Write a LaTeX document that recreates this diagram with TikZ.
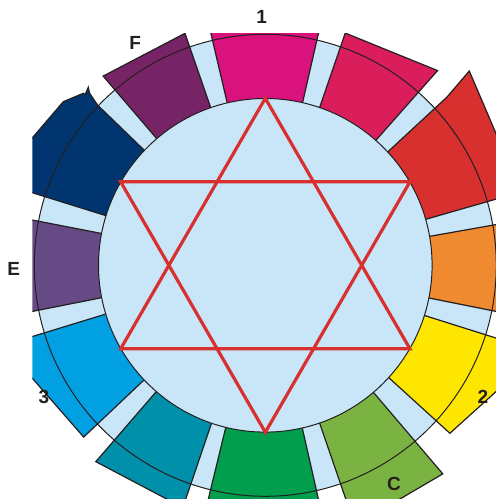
\documentclass[tikz,border=0pt]{standalone}
\usepackage{fontspec}
\setmainfont{Liberation Sans}
\definecolor{outl}{HTML}{231F20}
\definecolor{lblc}{HTML}{231F20}
\definecolor{ringc}{HTML}{C8E6F7}
\definecolor{starc}{HTML}{D82F2F}
\definecolor{cMag}{HTML}{D9127D}
\definecolor{cCrim}{HTML}{D91E5B}
\definecolor{cRed}{HTML}{D7302E}
\definecolor{cOra}{HTML}{F08A30}
\definecolor{cYel}{HTML}{FFE600}
\definecolor{cYG}{HTML}{7BB342}
\definecolor{cGre}{HTML}{009E4D}
\definecolor{cTea}{HTML}{0090A9}
\definecolor{cBlu}{HTML}{00A0E3}
\definecolor{cPur}{HTML}{664A85}
\definecolor{cNav}{HTML}{003570}
\definecolor{cFpu}{HTML}{762466}
\begin{document}
\begin{tikzpicture}[x=1pt,y=1pt,
  blk/.style={draw=outl, line width=1.2pt, line join=miter},
  arcline/.style={draw=outl, line width=1pt},
  starline/.style={draw=starc, line width=3.2pt, line join=miter},
  lbl/.style={text=lblc, font=\fontsize{19}{20}\selectfont\bfseries, inner sep=0pt, anchor=center}]
\useasboundingbox (0,0) rectangle (496,499);
\begin{scope}
\clip (32.3,0) rectangle (496,465.7);
\begin{scope}[shift={(265.3,233.7)}]
\fill[ringc] (0,0) circle (231);
% blocks
\path[blk, fill=cMag] (103.2:150) -- (103.2:245) -- (77.1:245) -- (77.1:150) -- cycle;
\path[blk, fill=cCrim] (71:150) -- (71:245.6) -- (48.5:260) -- (48.5:150) -- cycle;
\path[blk, fill=cRed] (42.8:150) -- (42.8:247.6) -- (204,194.3) -- (16:266) -- (16:150) -- cycle;
\path[blk, fill=cOra] (10:150) -- (10:262) -- (-11.3:262) -- (-11.3:150) -- cycle;
\path[blk, fill=cYel] (-17.5:150) -- (-17.5:288) -- (-42.3:249.6) -- (-42.3:150) -- cycle;
\path[blk, fill=cYG] (-49.6:150) -- (-49.6:273.9) -- (-71:275.1) -- (-71:150) -- cycle;
\path[blk, fill=cGre] (-77.2:150) -- (-77.2:262) -- (-103.7:262) -- (-103.7:150) -- cycle;
\path[blk, fill=cTea] (-108.8:150) -- (-108.8:255.9) -- (-130.8:259.4) -- (-130.8:150) -- cycle;
\path[blk, fill=cBlu] (-136.6:150) -- (-136.6:250) -- (-163:273.7) -- (-163:150) -- cycle;
\path[blk, fill=cPur] (-168.8:150) -- (-168.8:262) -- (169:262) -- (169:150) -- cycle;
\path[blk, fill=cNav] (162.7:150) -- (162.7:262) -- (-245.3,113.3) -- (-232,128.6) -- (-202,163.6)
  -- (-182,172) -- (-180.3,170.6) -- (-177,178) -- (-175.8,172.3) -- (-167.8,160.3) -- (136.5:150) -- cycle;
\path[blk, fill=cFpu] (130.6:150) -- (130.6:249.2) -- (109.1:245.5) -- (109.1:150) -- cycle;
% ring outline and inner disc
\draw[arcline] (0,0) circle (231);
\draw[arcline, fill=ringc] (0,0) circle (166.8);
% hexagram
\draw[starline] (90:167) -- (-30:167) -- (210:167) -- cycle;
\draw[starline] (30:167) -- (-90:167) -- (150:167) -- cycle;
\end{scope}
\end{scope}
% labels
\node[lbl] (l1) at (261.7,481.7) {1};
\node[lbl] (lF) at (135.3,455.7) {F};
\node[lbl] (lE) at (13.8,230) {E};
\node[lbl] (l3) at (44,102) {3};
\node[lbl] (l2) at (483,102) {2};
\node[lbl] (lC) at (394,15) {C};
\end{tikzpicture}
\end{document}
